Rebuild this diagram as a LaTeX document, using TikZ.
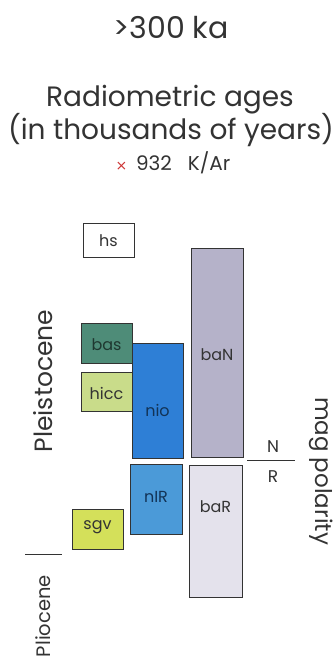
\documentclass[tikz,border=0pt]{standalone}
\usepackage{fontspec}
\setmainfont{Poppins}
\newfontfamily\symfont{DejaVu Sans}
\definecolor{cbas}{HTML}{4E8C78}
\definecolor{chicc}{HTML}{C9DC8A}
\definecolor{cnio}{HTML}{2E7FD6}
\definecolor{cnir}{HTML}{4B9AD8}
\definecolor{cban}{HTML}{B5B2C9}
\definecolor{cbar}{HTML}{E4E2EC}
\definecolor{csgv}{HTML}{D4E05A}
\definecolor{ink}{HTML}{333333}
\begin{document}
\begin{tikzpicture}[x=1pt,y=-1pt,
  unitbox/.style={draw=ink,line width=0.9pt,inner sep=0pt,anchor=center},
  boxlabel/.style={font=\fontsize{16}{16}\selectfont,text=ink,inner sep=0pt},
  bigtext/.style={font=\fontsize{28}{28}\selectfont,text=ink,inner sep=0pt},
  sidetext/.style={font=\fontsize{25}{25}\selectfont,text=ink,inner sep=0pt}]
\useasboundingbox (0,0) rectangle (333,666);
% titles
\node[font=\fontsize{30}{30}\selectfont,text=ink,inner sep=0pt] (title) at (171,28) {>300 ka};
\node[bigtext] (rad) at (170,100) {Radiometric ages};
\node[bigtext] (thou) at (171,130) {(in thousands of years)};
\node[font=\fontsize{20}{20}\selectfont,text=ink,inner sep=0pt] (kar) at (173,163) {{\color{red!60!gray}\symfont\fontsize{14}{14}\selectfont ×}\ \,932\ \ \ K/Ar};
% boxes
\node[unitbox,fill=white,minimum width=51pt,minimum height=34pt] (hs) at (108.5,240) {};
\node[unitbox,fill=cban,minimum width=52pt,minimum height=209pt] (baN) at (217,352.5) {};
\node[unitbox,fill=cbas,minimum width=51pt,minimum height=40pt] (bas) at (106.5,343) {};
\node[unitbox,fill=chicc,minimum width=51pt,minimum height=39pt] (hicc) at (106.5,391.5) {};
\node[unitbox,fill=cnio,minimum width=51pt,minimum height=115pt] (nio) at (157.5,400.5) {};
\node[unitbox,fill=cnir,minimum width=52pt,minimum height=70pt] (nIR) at (156,499) {};
\node[unitbox,fill=cbar,minimum width=53pt,minimum height=132pt] (baR) at (215.5,531) {};
\node[unitbox,fill=csgv,minimum width=51pt,minimum height=40pt] (sgv) at (97.5,529) {};
% labels
\node[boxlabel] (lhs) at (108.5,241) {hs};
\node[boxlabel] (lbaN) at (217,355) {baN};
\node[boxlabel,text=cbas!40!black] (lbas) at (106.5,345) {bas};
\node[boxlabel] (lhicc) at (106.5,393) {hicc};
\node[boxlabel,text=cnio!40!black] (lnio) at (157.5,410) {nio};
\node[boxlabel,text=cnio!40!black] (lnIR) at (156,497) {nIR};
\node[boxlabel] (lbaR) at (215.5,507) {baR};
\node[boxlabel] (lsgv) at (97.5,527) {sgv};
% polarity
\coordinate (nl) at (247,460);
\coordinate (nr) at (295,460);
\draw[ink,line width=1pt] (nl) -- (nr);
\node[font=\fontsize{17}{17}\selectfont,text=ink,inner sep=0pt] (N) at (273,447) {N};
\node[font=\fontsize{17}{17}\selectfont,text=ink,inner sep=0pt] (R) at (273,477) {R};
\node[font=\fontsize{23}{23}\selectfont,text=ink,inner sep=0pt,rotate=-90] (mag) at (321,471) {mag polarity};
% epochs
\node[sidetext,rotate=90] (plei) at (43,381) {Pleistocene};
\node[font=\fontsize{19.5}{19.5}\selectfont,text=ink,inner sep=0pt,rotate=90,anchor=east] (plio) at (43,575) {Pliocene};
\coordinate (t1) at (25,554);
\coordinate (t2) at (62,554);
\draw[ink,line width=1pt] (t1) -- (t2);
\end{tikzpicture}
\end{document}
